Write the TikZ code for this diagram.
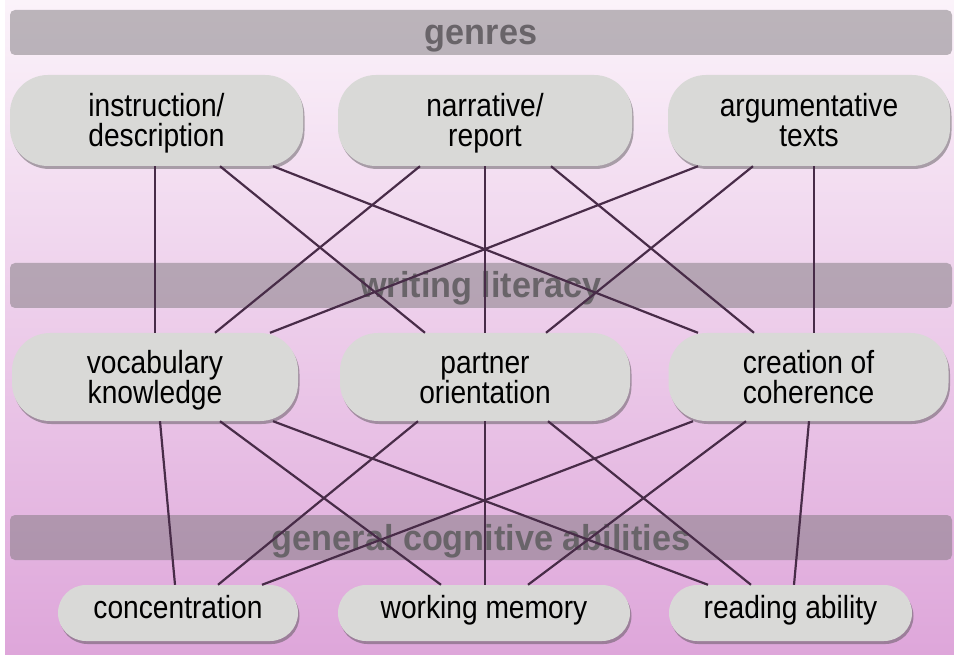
\documentclass[tikz,border=0pt]{standalone}
\usepackage{fontspec}
\setmainfont[FakeStretch=0.88]{Liberation Sans}
\newfontfamily\barfont[FakeStretch=0.95]{Liberation Sans}
\usetikzlibrary{shadows}
\definecolor{bgtop}{RGB}{251,243,250}
\definecolor{bgbottom}{RGB}{222,166,218}
\definecolor{barfill}{RGB}{125,120,125}
\definecolor{bartext}{RGB}{105,100,105}
\definecolor{boxfill}{RGB}{217,217,215}
\definecolor{linkcol}{RGB}{72,44,72}
\tikzset{
  % rounded grey boxes for the skills, and the bars naming each level
  skill node/.style={rectangle,rounded corners=38pt,fill=boxfill,inner sep=0pt,
    align=center,font=\fontsize{32}{30}\selectfont,text height=56pt,text depth=3pt,
    drop shadow={shadow xshift=1.5pt,shadow yshift=-3pt,opacity=0.45,fill=black!70}},
  small node/.style={skill node,rounded corners=28pt,minimum height=56pt,
    text height=23pt,text depth=13pt},
  level bar/.style={rectangle,rounded corners=5pt,fill=barfill,fill opacity=0.5,
    text opacity=1,text=bartext,inner sep=0pt,minimum width=942pt,minimum height=45pt,
    font=\barfont\fontsize{36}{40}\selectfont\bfseries,text height=26pt,text depth=1pt},
  link/.style={draw=linkcol,line width=2.2pt}
}

\begin{document}
\begin{tikzpicture}[x=1pt,y=-1pt]
\useasboundingbox (0,0) rectangle (954,655);
\shade[top color=bgtop,bottom color=bgbottom] (5,0) rectangle (954,655);

\node[level bar] (genres) at (481,32.5) {genres};
\node[level bar] (literacy) at (481,285.5) {writing literacy};
\node[level bar] (cognitive) at (481,537.5) {general cognitive abilities};

\node[skill node,minimum width=293pt,minimum height=91pt] (instr) at (156.5,120.5) {instruction/\\description};
\node[skill node,minimum width=294pt,minimum height=91pt] (narr) at (485,120.5) {narrative/\\report};
\node[skill node,minimum width=282pt,minimum height=91pt] (argu) at (809,120.5) {argumentative\\texts};

\node[skill node,minimum width=286pt,minimum height=88pt] (vocab) at (155,377) {vocabulary\\knowledge};
\node[skill node,minimum width=290pt,minimum height=88pt] (partner) at (485,377) {partner\\orientation};
\node[skill node,minimum width=280pt,minimum height=88pt] (coher) at (808.5,377) {creation of\\coherence};

\node[small node,minimum width=240pt] (conc) at (178,613) {concentration};
\node[small node,minimum width=292pt] (wmem) at (484,613) {working memory};
\node[small node,minimum width=243pt] (read) at (790.5,613) {reading ability};

% genres -> writing literacy
\draw[link] ([xshift=-1.5pt]instr.south) -- (vocab.north);
\draw[link] ([xshift=63.5pt]instr.south) -- ([xshift=-60pt]partner.north);
\draw[link] ([xshift=116.5pt]instr.south) -- ([xshift=-110.5pt]coher.north);
\draw[link] ([xshift=-65pt]narr.south) -- ([xshift=60pt]vocab.north);
\draw[link] (narr.south) -- (partner.north);
\draw[link] ([xshift=66pt]narr.south) -- ([xshift=-54.5pt]coher.north);
\draw[link] ([xshift=-111pt]argu.south) -- ([xshift=115pt]vocab.north);
\draw[link] ([xshift=-56pt]argu.south) -- ([xshift=61pt]partner.north);
\draw[link] ([xshift=5pt]argu.south) -- ([xshift=5.5pt]coher.north);

% writing literacy -> cognitive abilities
\draw[link] ([xshift=5pt]vocab.south) -- ([xshift=-3pt]conc.north);
\draw[link] ([xshift=65pt]vocab.south) -- ([xshift=-43pt]wmem.north);
\draw[link] ([xshift=118pt]vocab.south) -- ([xshift=-82.5pt]read.north);
\draw[link] ([xshift=-67pt]partner.south) -- ([xshift=40pt]conc.north);
\draw[link] (partner.south) -- ([xshift=1pt]wmem.north);
\draw[link] ([xshift=63pt]partner.south) -- ([xshift=-39.5pt]read.north);
\draw[link] ([xshift=-115.5pt]coher.south) -- ([xshift=84pt]conc.north);
\draw[link] ([xshift=-62.5pt]coher.south) -- ([xshift=44pt]wmem.north);
\draw[link] ([xshift=0.5pt]coher.south) -- ([xshift=3.5pt]read.north);
\end{tikzpicture}
\end{document}
